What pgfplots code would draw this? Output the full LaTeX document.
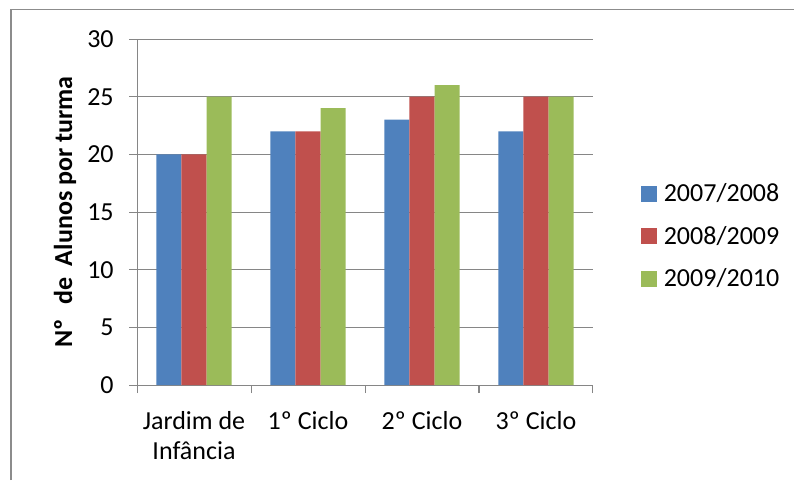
\documentclass[border=0pt]{standalone}
\usepackage{pgfplots}
\pgfplotsset{compat=1.18}
\usepackage{fontspec}
\setmainfont{Carlito}
\definecolor{xblue}{HTML}{4F81BD}
\definecolor{xred}{HTML}{C0504D}
\definecolor{xgreen}{HTML}{9BBB59}
\definecolor{xgrid}{HTML}{868686}
\definecolor{xframe}{HTML}{8C8C8C}
\begin{document}
\begin{tikzpicture}
  \begin{axis}[
    at={(102.75pt,71.25pt)}, anchor=south west,
    scale only axis,
    width=342pt, height=259.5pt,
    ybar=0pt, bar width=18.75pt,
    xmin=-0.5, xmax=3.5,
    ymin=0, ymax=30,
    ytick={0,5,...,30},
    xtick={-0.5,0.5,1.5,2.5,3.5},
    x tick label as interval,
    xticklabels={{Jardim de\\Infância},{1º Ciclo},{2º Ciclo},{3º Ciclo}},
    xticklabel style={align=center, yshift=-10pt},
    yticklabel style={xshift=-8pt},
    axis x line*=bottom, axis y line*=left,
    axis line style={xgrid, line width=0.75pt},
    tick style={xgrid, line width=0.75pt},
    tick align=outside, major tick length=6pt,
    ymajorgrids=true,
    grid style={xgrid, line width=0.75pt},
    font=\fontsize{19.5}{23}\selectfont,
    /pgf/number format/assume math mode=true,
    ylabel={\bfseries Nº\hspace{0.55em}de\hspace{0.45em}Alunos por turma},
    ylabel style={at={(axis description cs:-0.158,0.5)}, anchor=center},
    legend style={draw=none, fill=none, at={(axis description cs:1.105,0.43)},
      anchor=west, row sep=13pt, inner sep=0pt,
      nodes={inner sep=2pt}},
    legend cell align=left,
    legend image code/.code={\fill[#1] (0pt,-6pt) rectangle (12pt,6pt);
      \path (15pt,0pt);},
  ]
  \addplot[fill=xblue, draw=none] coordinates {(0,20) (1,22) (2,23) (3,22)};
  \addlegendentry{2007/2008}
  \addplot[fill=xred, draw=none] coordinates {(0,20) (1,22) (2,25) (3,25)};
  \addlegendentry{2008/2009}
  \addplot[fill=xgreen, draw=none] coordinates {(0,25) (1,24) (2,26) (3,25)};
  \addlegendentry{2009/2010}
  \end{axis}
  \draw[xframe, line width=1.1pt] (8.25pt,0pt) -- (8.25pt,352.9pt) -- (595.5pt,352.9pt);
  \pgfresetboundingbox
  \useasboundingbox (0,0) rectangle (595.5pt,360pt);
\end{tikzpicture}
\end{document}
